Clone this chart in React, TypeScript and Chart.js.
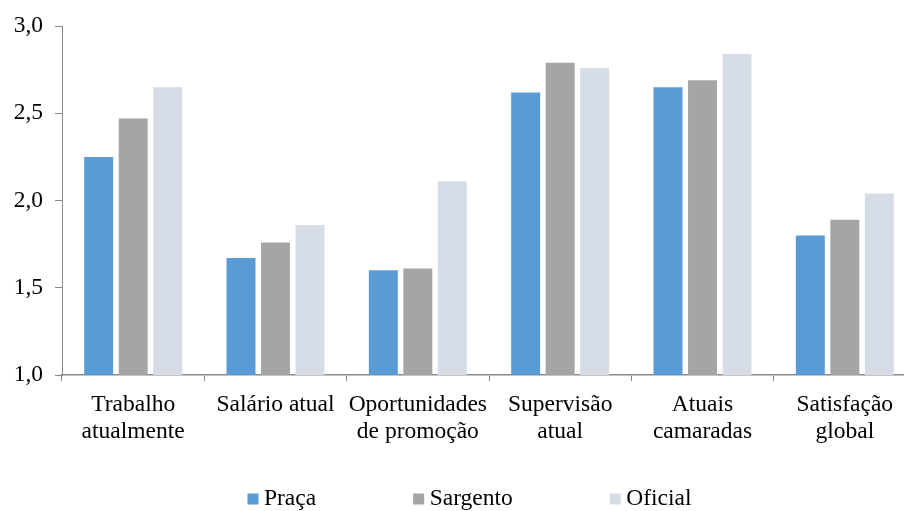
import React, { useEffect, useRef } from "react";
import { Chart, registerables } from "chart.js";

Chart.register(...registerables);

const categories: (string | string[])[] = [
  ["Trabalho", "atualmente"],
  "Salário atual",
  ["Oportunidades", "de promoção"],
  ["Supervisão", "atual"],
  ["Atuais", "camaradas"],
  ["Satisfação", "global"],
];
const seriesNames = ["Praça", "Sargento", "Oficial"];
const praca = [2.25, 1.67, 1.6, 2.62, 2.65, 1.8];
const sargento = [2.47, 1.76, 1.61, 2.79, 2.69, 1.89];
const oficial = [2.65, 1.86, 2.11, 2.76, 2.84, 2.04];
const colors = ["#5B9BD5", "#A5A5A5", "#D6DCE5"];
const yMin = 1;
const yMax = 3;
const yStep = 0.5;

const FONT = "'Liberation Serif', 'Times New Roman', serif";
const FS = 23.5;

// simple legend drawn in the canvas, below the axis labels
const legendPlugin = {
  id: "bottomLegend",
  afterDraw(chart: any) {
    const ctx = chart.ctx as CanvasRenderingContext2D;
    const box = 11;
    const boxGap = 5.5;
    const itemGap = 97;
    const centerX = 469.5;
    const centerY = 499;
    ctx.save();
    ctx.font = `${FS}px ${FONT}`;
    ctx.textBaseline = "middle";
    ctx.textAlign = "left";
    const items = chart.data.datasets.map((d: any) => ({
      label: d.label as string,
      color: d.backgroundColor as string,
      w: ctx.measureText(d.label).width,
    }));
    const total =
      items.reduce((a: number, it: any) => a + box + boxGap + it.w, 0) +
      itemGap * (items.length - 1);
    let x = centerX - total / 2;
    for (const it of items) {
      ctx.fillStyle = it.color;
      ctx.fillRect(x, centerY - box / 2, box, box);
      ctx.fillStyle = "#000";
      ctx.fillText(it.label, x + box + boxGap, centerY);
      x += box + boxGap + it.w + itemGap;
    }
    ctx.restore();
  },
};

export default function App() {
  const ref = useRef<HTMLCanvasElement | null>(null);
  useEffect(() => {
    if (!ref.current) return;
    const values = [praca, sargento, oficial];
    const chart = new Chart(ref.current, {
      type: "bar",
      data: {
        labels: categories,
        datasets: values.map((v, i) => ({
          label: seriesNames[i],
          data: v,
          backgroundColor: colors[i],
          borderWidth: 0,
          categoryPercentage: 0.727,
          barPercentage: 0.84,
        })),
      },
      plugins: [legendPlugin],
      options: {
        animation: false,
        responsive: false,
        maintainAspectRatio: false,
        devicePixelRatio: 1,
        layout: { padding: { left: 0, right: 14, top: 25, bottom: 0 } },
        plugins: {
          tooltip: { enabled: false },
          legend: { display: false },
        },
        scales: {
          x: {
            afterFit: (s: any) => {
              s.height = 136;
            },
            grid: {
              display: true,
              drawOnChartArea: false,
              drawTicks: true,
              tickLength: 6,
              color: "#898989",
              offset: true,
            },
            border: { display: true, color: "#898989", width: 1.5 },
            ticks: {
              color: "#000",
              font: { family: FONT, size: FS, lineHeight: 1.15 },
              padding: 10.5,
              maxRotation: 0,
              autoSkip: false,
            },
          },
          y: {
            min: yMin,
            max: yMax,
            afterFit: (s: any) => {
              s.width = 62;
            },
            grid: {
              display: true,
              drawOnChartArea: false,
              drawTicks: true,
              tickLength: 7,
              color: "#898989",
            },
            border: { display: true, color: "#898989", width: 1 },
            ticks: {
              stepSize: yStep,
              color: "#000",
              padding: 12,
              font: { family: FONT, size: FS },
              callback: (v: any) => Number(v).toFixed(1).replace(".", ","),
            },
          },
        },
      } as any,
    });
    return () => chart.destroy();
  }, []);
  return (
    <div
      style={{
        position: "fixed",
        left: 0,
        top: 0,
        width: 904,
        height: 511,
        overflow: "hidden",
        background: "#fff",
      }}
    >
      <canvas ref={ref} width={930} height={511} style={{ width: 930, height: 511, display: "block" }} />
    </div>
  );
}
